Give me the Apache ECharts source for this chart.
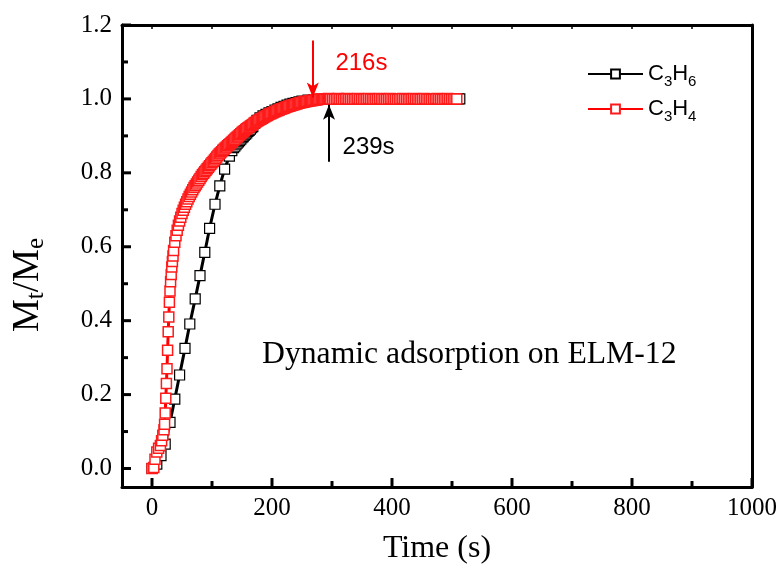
<!DOCTYPE html>
<html>
<head>
<meta charset="utf-8">
<script src="https://cdn.jsdelivr.net/npm/echarts@6/dist/echarts.min.js"></script>
<style>
  html, body { margin: 0; padding: 0; background: #fff; }
  #chart { width: 781px; height: 572px; }
</style>
</head>
<body>
<div id="chart"></div>
<script>
// Uptake curves Mt/Me vs time for propylene (C3H6) and propyne (C3H4)
const c3h6Time = [0, 8, 15, 22, 30, 38, 46, 55, 63, 72, 80, 88, 96, 105, 113, 121, 129, 133,
  136, 138, 140, 142, 144, 146, 148, 150, 152, 154, 156, 158, 160, 162, 164, 166, 168,
  171, 175, 180, 185, 190, 195, 200, 205, 210, 215, 220, 225, 230, 235, 240, 245, 250, 260, 270, 280, 290,
  300, 310, 320, 330, 340, 350, 360, 370, 380, 390, 400, 410, 420, 430, 440, 450, 460, 470, 480, 490, 500, 510, 513];
const c3h6Value = [0.000, 0.012, 0.035, 0.066, 0.125, 0.188, 0.253, 0.325, 0.391, 0.459, 0.522, 0.585, 0.650, 0.715, 0.765, 0.810, 0.845, 0.860,
  0.868, 0.872, 0.876, 0.880, 0.884, 0.887, 0.891, 0.895, 0.898, 0.902, 0.905, 0.908, 0.912, 0.915, 0.918, 0.922, 0.925,
  0.934, 0.942, 0.949, 0.954, 0.958, 0.962, 0.966, 0.970, 0.973, 0.977, 0.980, 0.983, 0.986, 0.988, 0.990, 0.992, 0.994, 0.997, 0.998, 0.999, 1.000,
  1.000, 1.000, 1.001, 1.000, 1.000, 0.999, 1.000, 1.001, 1.000, 1.000, 1.000, 0.999, 1.000, 1.001, 1.000, 1.000, 1.000, 1.001, 1.000, 1.000, 1.000, 1.000, 1.000];

const c3h4Time = [0, 3, 5, 8, 11, 14, 16, 18, 20, 21, 22, 23, 24, 25, 26, 27, 28, 29, 30, 31, 32, 33, 34, 35,
  36, 38, 40, 42, 44, 46, 48, 50, 52, 54, 56, 58, 60, 62, 64, 66, 68, 70, 72, 74, 76, 78, 80, 82, 84, 86, 88, 90,
  92, 94, 96, 98, 100, 102, 104, 106, 108, 110, 112, 114, 116, 118, 120, 122, 124, 126, 128, 130, 132, 134, 136, 138,
  140, 142, 144, 146, 148, 150, 152, 154, 156, 158, 160, 162, 164, 166, 168, 170, 172, 174, 176, 178, 180, 182, 184, 186,
  188, 190, 192, 194, 196, 198, 200, 202, 204, 206, 208, 210, 212, 214, 216, 218, 220, 222, 224, 226, 228, 230, 232, 234,
  236, 238, 240, 242, 244, 246, 248, 250, 252, 254, 256, 258, 260, 262, 264, 266, 268, 270, 272, 274, 276, 278, 280, 282,
  284, 286, 288, 290, 292, 294, 296, 298,
  301, 304, 307, 310, 313, 316, 319, 322, 325, 328, 331, 334, 337, 340, 343, 346, 349, 352, 355, 358,
  361, 364, 367, 370, 373, 376, 379, 382, 385, 388, 391, 394, 397, 400, 403, 406, 409, 412, 415, 418,
  421, 424, 427, 430, 433, 436, 439, 442, 445, 448, 451, 454, 457, 460, 463, 466, 469, 472, 475, 478,
  481, 484, 487, 490, 493, 496, 499, 502, 505, 508];
const c3h4Value = [0.000, 0.003, 0.025, 0.045, 0.055, 0.062, 0.075, 0.090, 0.105, 0.120, 0.150, 0.190, 0.230, 0.270, 0.320, 0.370, 0.410, 0.450, 0.480, 0.505, 0.525, 0.545, 0.560, 0.575,
  0.590, 0.612, 0.630, 0.645, 0.658, 0.670, 0.680, 0.690, 0.699, 0.707, 0.715, 0.722, 0.729, 0.736, 0.742, 0.748, 0.754, 0.760, 0.765, 0.770, 0.775, 0.780, 0.785, 0.790, 0.795, 0.799, 0.803, 0.807,
  0.811, 0.815, 0.819, 0.823, 0.827, 0.831, 0.835, 0.839, 0.843, 0.847, 0.851, 0.854, 0.857, 0.861, 0.864, 0.867, 0.870, 0.873, 0.876, 0.879, 0.882, 0.885, 0.888, 0.891,
  0.894, 0.897, 0.900, 0.903, 0.906, 0.909, 0.912, 0.914, 0.917, 0.919, 0.922, 0.924, 0.927, 0.929, 0.931, 0.934, 0.936, 0.938, 0.940, 0.942, 0.944, 0.946, 0.948, 0.950,
  0.952, 0.954, 0.955, 0.957, 0.959, 0.960, 0.962, 0.963, 0.965, 0.966, 0.968, 0.969, 0.970, 0.972, 0.973, 0.974, 0.975, 0.977, 0.978, 0.979, 0.980, 0.981, 0.982, 0.983,
  0.984, 0.985, 0.986, 0.987, 0.988, 0.989, 0.990, 0.990, 0.991, 0.992, 0.993, 0.993, 0.994, 0.995, 0.995, 0.996, 0.996, 0.997, 0.997, 0.998, 0.998, 0.999, 0.999, 0.999,
  1.000, 1.000, 1.000, 0.999, 1.000, 1.001, 1.000, 1.000,
  1.000, 0.999, 1.000, 1.001, 1.000, 1.000, 0.999, 1.000, 1.001, 1.000, 1.000, 1.000, 0.999, 1.000, 1.001, 1.000, 1.000, 0.999, 1.000, 1.000,
  1.001, 1.000, 1.000, 0.999, 1.000, 1.000, 1.001, 1.000, 1.000, 1.000, 0.999, 1.000, 1.001, 1.000, 1.000, 1.000, 0.999, 1.000, 1.000, 1.001,
  1.000, 1.000, 0.999, 1.000, 1.000, 1.001, 1.000, 1.000, 1.000, 0.999, 1.000, 1.001, 1.000, 1.000, 1.000, 0.999, 1.000, 1.000, 1.001, 1.000,
  1.000, 0.999, 1.000, 1.000, 1.001, 1.000, 1.000, 1.000, 1.000, 1.000];

const xMajorTicks = [0, 200, 400, 600, 800, 1000];
const xMinorTicks = [100, 300, 500, 700, 900];
const xTopTicks = [0, 100, 200, 300, 400, 500, 600, 700, 800, 900, 1000];
const yMajorTicks = [0, 0.2, 0.4, 0.6, 0.8, 1.0, 1.2];
const yMinorTicks = [0.1, 0.3, 0.5, 0.7, 0.9, 1.1];

// breakthrough-time markers: [time, arrow start, arrow tip] and label positions
const c3h4Marker = { time: 268, from: 1.158, to: 1.004, label: '216s', labelAt: [349, 1.095] };
const c3h6Marker = { time: 295, from: 0.830, to: 0.984, label: '239s', labelAt: [361, 0.869] };

const seriesNames = ['C3H6', 'C3H4'];
const legendRich = { 'C3H6': 'C{s|3}H{s|6}', 'C3H4': 'C{s|3}H{s|4}' };

const pair = (t, v) => t.map((x, i) => [x, v[i]]);

const serif = 'Liberation Serif';
const sans = 'Liberation Sans';
const xMin = -50, xMax = 1000, yMin = -0.05, yMax = 1.2;

const frameLine = { show: true, onZero: false, lineStyle: { color: '#000', width: 3 } };

function xAxisOf(extra) {
  return Object.assign({ type: 'value', min: xMin, max: xMax, splitLine: { show: false }, axisTick: { show: false } }, extra);
}
function yAxisOf(extra) {
  return Object.assign({ type: 'value', min: yMin, max: yMax, splitLine: { show: false }, axisTick: { show: false } }, extra);
}

const chart = echarts.init(document.getElementById('chart'), null, { renderer: 'canvas' });

chart.setOption({
  animation: false,
  backgroundColor: '#fff',
  grid: { left: 122, right: 29, top: 25, bottom: 85, containLabel: false },
  xAxis: [
    xAxisOf({
      position: 'bottom',
      axisLine: frameLine,
      axisLabel: { show: true, customValues: xMajorTicks, margin: 9, color: '#000', fontFamily: serif, fontSize: 25, formatter: v => String(v) },
      name: 'Time (s)', nameLocation: 'middle', nameGap: 46,
      nameTextStyle: { color: '#000', fontFamily: serif, fontSize: 32 }
    }),
    xAxisOf({ position: 'top', axisLine: frameLine, axisLabel: { show: false } })
  ],
  yAxis: [
    yAxisOf({
      position: 'left',
      axisLine: frameLine,
      axisLabel: {
        show: true, customValues: yMajorTicks, margin: 10, color: '#000', fontFamily: serif, fontSize: 25,
        formatter: v => v.toFixed(1)
      }
    }),
    yAxisOf({ position: 'right', axisLine: frameLine, axisLabel: { show: false } })
  ],
  legend: {
    orient: 'vertical', left: 582, top: 54,
    itemWidth: 55, itemHeight: 11, itemGap: 5,
    data: seriesNames,
    formatter: name => legendRich[name],
    textStyle: {
      color: '#000', fontFamily: sans, fontSize: 22, lineHeight: 30,
      rich: { s: { color: '#000', fontFamily: sans, fontSize: 15, lineHeight: 15, verticalAlign: 'bottom' } }
    }
  },
  series: [
    {
      name: 'C3H6', type: 'line', xAxisIndex: 0, yAxisIndex: 0,
      data: pair(c3h6Time, c3h6Value),
      symbol: 'rect', symbolSize: 10, showAllSymbol: true,
      lineStyle: { color: '#000', width: 3 },
      itemStyle: { color: '#fff', borderColor: '#000', borderWidth: 1.2 },
      emphasis: { disabled: true },
      markLine: {
        silent: true, symbol: ['none', 'arrow'], symbolSize: [9, 15],
        lineStyle: { color: '#000', width: 2, type: 'solid' },
        label: { show: false },
        data: [[{ coord: [c3h6Marker.time, c3h6Marker.from] }, { coord: [c3h6Marker.time, c3h6Marker.to] }]]
      },
      markPoint: {
        silent: true, symbol: 'rect', symbolSize: 0,
        label: { show: true, position: 'inside', formatter: c3h6Marker.label, color: '#000', fontFamily: sans, fontSize: 24 },
        data: [{ coord: c3h6Marker.labelAt }]
      }
    },
    {
      name: 'C3H4', type: 'line', xAxisIndex: 0, yAxisIndex: 0,
      data: pair(c3h4Time, c3h4Value),
      symbol: 'rect', symbolSize: 10, showAllSymbol: true,
      lineStyle: { color: '#ff0000', width: 3 },
      itemStyle: { color: '#fff', borderColor: '#ff1a1a', borderWidth: 1.5 },
      emphasis: { disabled: true },
      markLine: {
        silent: true, symbol: ['none', 'arrow'], symbolSize: [9, 15],
        lineStyle: { color: '#ff0000', width: 2, type: 'solid' },
        label: { show: false },
        data: [[{ coord: [c3h4Marker.time, c3h4Marker.from] }, { coord: [c3h4Marker.time, c3h4Marker.to] }]]
      },
      markPoint: {
        silent: true, symbol: 'rect', symbolSize: 0,
        label: { show: true, position: 'inside', formatter: c3h4Marker.label, color: '#ff0000', fontFamily: sans, fontSize: 24 },
        data: [{ coord: c3h4Marker.labelAt }]
      }
    }
  ]
});

// Inward tick marks on the frame, placed through the axis scales
const toPx = v => chart.convertToPixel({ xAxisIndex: 0 }, v);
const toPy = v => chart.convertToPixel({ yAxisIndex: 0 }, v);
const frameLeft = toPx(xMin), frameBottom = toPy(yMin), frameTop = toPy(yMax);
const tickLine = (x1, y1, x2, y2, w) => ({
  type: 'line', silent: true, z: 100,
  shape: { x1: x1, y1: y1, x2: x2, y2: y2 },
  style: { stroke: '#000', lineWidth: w }
});
const overlay = [];
xMajorTicks.forEach(v => overlay.push(tickLine(toPx(v), frameBottom, toPx(v), frameBottom - 9, 3)));
xMinorTicks.forEach(v => overlay.push(tickLine(toPx(v), frameBottom, toPx(v), frameBottom - 6, 3)));
xTopTicks.forEach(v => overlay.push(tickLine(toPx(v), frameTop, toPx(v), frameTop + 4, 1.5)));
yMajorTicks.forEach(v => overlay.push(tickLine(frameLeft, toPy(v), frameLeft + 9, toPy(v), 3)));
yMinorTicks.forEach(v => overlay.push(tickLine(frameLeft, toPy(v), frameLeft + 6, toPy(v), 3)));

overlay.push({
  type: 'text', silent: true, x: 28, y: 285, rotation: Math.PI / 2,
  style: {
    text: 'M{s|t}/M{s|e}', fill: '#000', align: 'center', verticalAlign: 'middle',
    font: '37px "Liberation Serif"', lineHeight: 42,
    rich: { s: { font: '25px "Liberation Serif"', lineHeight: 25, verticalAlign: 'bottom', fill: '#000' } }
  }
});
overlay.push({
  type: 'text', silent: true, left: 262, top: 339,
  style: { text: 'Dynamic adsorption on ELM-12', fill: '#000', font: '31.7px "Liberation Serif"' }
});

chart.setOption({ graphic: overlay });
</script>
</body>
</html>
